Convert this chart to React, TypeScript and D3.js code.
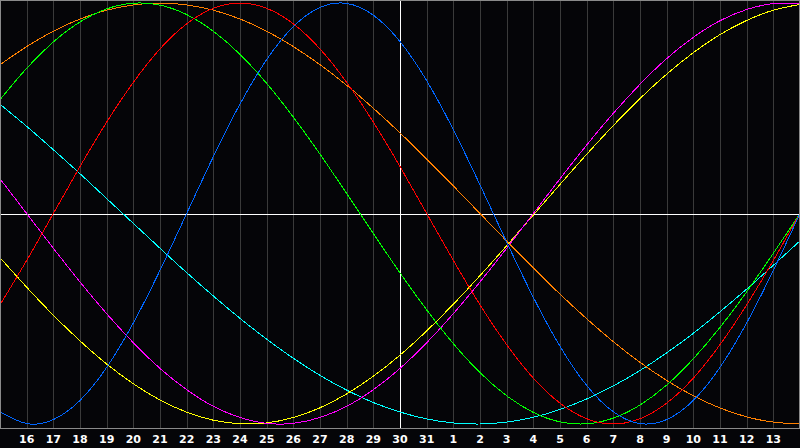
import React from "react";
import * as d3 from "d3";

// days shown on the x axis (15th .. 14th of next month)
const days = [15, 16, 17, 18, 19, 20, 21, 22, 23, 24, 25, 26, 27, 28, 29, 30, 31, 1, 2, 3, 4, 5, 6, 7, 8, 9, 10, 11, 12, 13, 14];

// cycle values, -1..1, one per day
const physical = [-0.942, -0.998, -0.979, -0.888, -0.731, -0.52, -0.27, 0, 0.27, 0.52, 0.731, 0.888, 0.979, 0.998, 0.942, 0.817, 0.631, 0.398, 0.136, -0.136, -0.398, -0.631, -0.817, -0.942, -0.998, -0.979, -0.888, -0.731, -0.52, -0.27, 0];
const emotional = [-0.434, -0.223, 0, 0.223, 0.434, 0.623, 0.782, 0.901, 0.975, 1, 0.975, 0.901, 0.782, 0.623, 0.434, 0.223, 0, -0.223, -0.434, -0.623, -0.782, -0.901, -0.975, -1, -0.975, -0.901, -0.782, -0.623, -0.434, -0.223, 0];
const intellectual = [0.541, 0.69, 0.815, 0.91, 0.972, 0.999, 0.99, 0.945, 0.866, 0.756, 0.618, 0.458, 0.282, 0.095, -0.095, -0.282, -0.458, -0.618, -0.756, -0.866, -0.945, -0.99, -0.999, -0.972, -0.91, -0.815, -0.69, -0.541, -0.372, -0.189, 0];
const intuitive = [0.165, 0, -0.165, -0.325, -0.476, -0.614, -0.736, -0.837, -0.916, -0.969, -0.997, -0.997, -0.969, -0.916, -0.837, -0.736, -0.614, -0.476, -0.325, -0.165, 0, 0.165, 0.325, 0.476, 0.614, 0.736, 0.837, 0.916, 0.969, 0.997, 0.997];
const aesthetic = [-0.21, -0.35, -0.483, -0.605, -0.715, -0.809, -0.886, -0.944, -0.982, -0.999, -0.995, -0.969, -0.923, -0.857, -0.773, -0.673, -0.558, -0.431, -0.295, -0.153, -0.007, 0.138, 0.281, 0.418, 0.546, 0.662, 0.764, 0.85, 0.917, 0.966, 0.993];
const awareness = [0.707, 0.793, 0.866, 0.924, 0.966, 0.991, 1, 0.991, 0.966, 0.924, 0.866, 0.793, 0.707, 0.609, 0.5, 0.383, 0.259, 0.131, 0, -0.131, -0.259, -0.383, -0.5, -0.609, -0.707, -0.793, -0.866, -0.924, -0.966, -0.991, -1];
const spiritual = [0.519, 0.414, 0.303, 0.189, 0.071, -0.047, -0.165, -0.281, -0.392, -0.498, -0.597, -0.688, -0.769, -0.839, -0.898, -0.943, -0.976, -0.995, -1, -0.991, -0.968, -0.931, -0.881, -0.819, -0.746, -0.662, -0.569, -0.467, -0.359, -0.246, -0.13];

const series = [
  { name: "spiritual", values: spiritual, color: "#00ffff" },
  { name: "awareness", values: awareness, color: "#ff8000" },
  { name: "aesthetic", values: aesthetic, color: "#ffff00" },
  { name: "intuitive", values: intuitive, color: "#ff00ff" },
  { name: "intellectual", values: intellectual, color: "#00ff00" },
  { name: "emotional", values: emotional, color: "#ff0000" },
  { name: "physical", values: physical, color: "#0066ff" },
];

const width = 800;
const height = 448;
const plotBottom = 428;
const today = 15; // index of the highlighted day

export default function App() {
  const x = d3.scaleLinear().domain([0, days.length - 1]).range([0, width]);
  const y = d3.scaleLinear().domain([-1, 1]).range([424, 3]);

  const line = d3
    .line<number>()
    .x((_, i) => x(i))
    .y((d) => y(d))
    .curve(d3.curveNatural);

  const zeroY = Math.round(y(0)) + 0.5;

  return (
    <div style={{ position: "fixed", left: 0, top: 0, width, height, background: "#050508" }}>
      <svg width={width} height={height} style={{ display: "block" }}>
        <rect x={0} y={0} width={width} height={height} fill="#050508" />

        {/* day grid */}
        {days.map((d, i) =>
          i === 0 || i === days.length - 1 || i === today ? null : (
            <line
              key={"g" + i}
              x1={Math.round(x(i)) + 0.5}
              x2={Math.round(x(i)) + 0.5}
              y1={0}
              y2={plotBottom}
              stroke="#3a3a3a"
              shapeRendering="crispEdges"
            />
          )
        )}

        {/* today + zero line */}
        <line x1={Math.round(x(today)) + 0.5} x2={Math.round(x(today)) + 0.5} y1={0} y2={plotBottom} stroke="#ffffff" shapeRendering="crispEdges" />
        <line x1={0} x2={width} y1={zeroY} y2={zeroY} stroke="#ffffff" shapeRendering="crispEdges" />

        {/* cycles */}
        {series.map((s) => (
          <path key={s.name} d={line(s.values) || ""} fill="none" stroke={s.color} strokeWidth={1} shapeRendering="crispEdges" />
        ))}

        {/* frame */}
        <rect x={0.5} y={0.5} width={width - 1} height={plotBottom - 0.5} fill="none" stroke="#8a8a8a" shapeRendering="crispEdges" />

        {/* day labels */}
        {days.map((d, i) =>
          i === 0 || i === days.length - 1 ? null : (
            <text
              key={"t" + i}
              x={x(i)}
              y={443}
              textAnchor="middle"
              fill="#ffffff"
              fontFamily="'DejaVu Sans', sans-serif"
              fontWeight="bold"
              fontSize={11}
            >
              {d}
            </text>
          )
        )}
      </svg>
    </div>
  );
}
